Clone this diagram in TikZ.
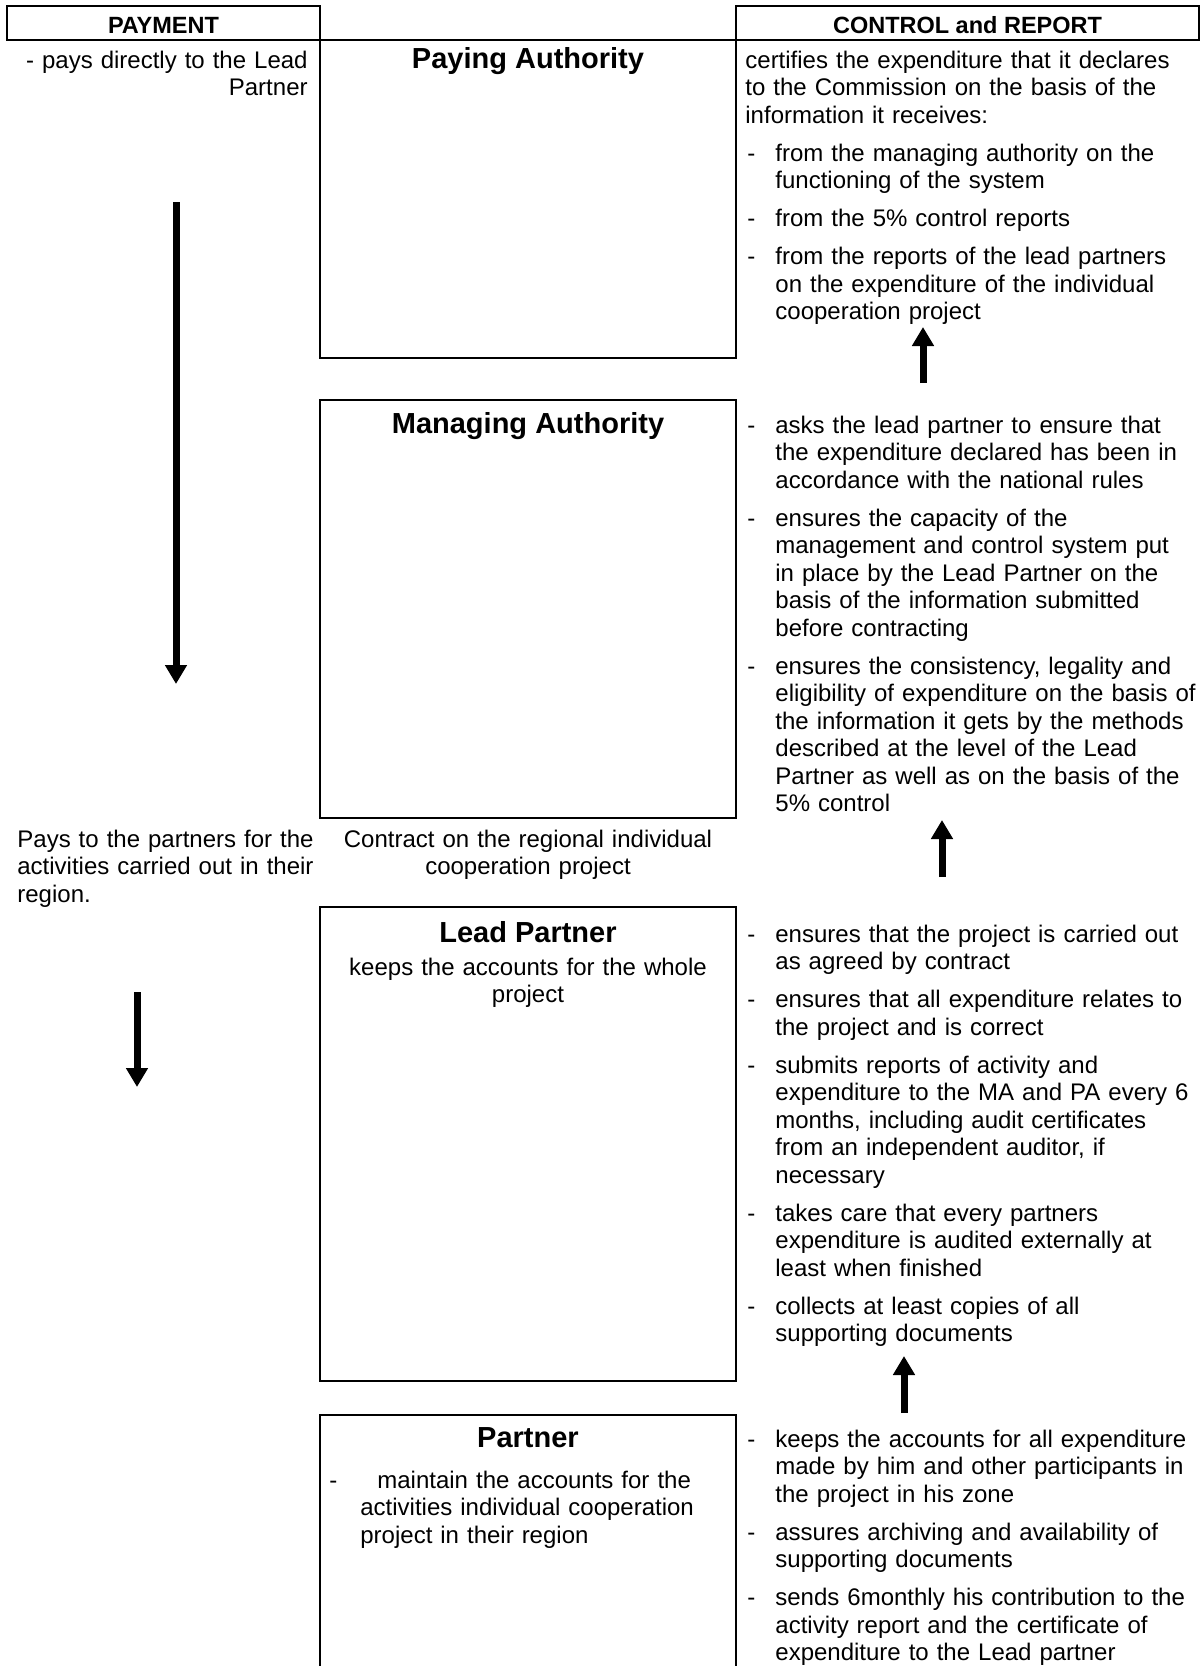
\documentclass[tikz,border=0pt]{standalone}
\usepackage{fontspec}
\setmainfont{Liberation Sans}
\usetikzlibrary{arrows.meta}

% list entry with a hanging dash; line breaks stay inside one paragraph
\newcommand{\dashline}[1]{\hangindent=15pt\hangafter=1\noindent\makebox[15pt][l]{\hspace{1pt}-}\begingroup\let\\\newline #1\endgroup\par}
\newcommand{\blockgap}{\vspace{5.25pt}}

\begin{document}
\begin{tikzpicture}[x=0.5pt,y=-0.5pt,
  frame/.style={draw, line width=1.25pt, inner sep=0pt, outer sep=0pt, anchor=north west},
  body/.style={font=\fontsize{12pt}{13.75pt}\selectfont, inner sep=0pt},
  title/.style={font=\fontsize{14.5pt}{17pt}\selectfont\bfseries, inner sep=0pt, anchor=base},
  head/.style={font=\fontsize{11.75pt}{14pt}\selectfont\bfseries, inner sep=0pt, anchor=base},
  notes/.style={body, text width=235pt, align=left, anchor=base west},
  flow/.style={line width=3.5pt, -{Triangle[width=10.5pt,length=9.5pt]}}
]
\useasboundingbox (0,0) rectangle (1202,1666);
\fill[white] (0,0) rectangle (1202,1666);

% column headers
\node[frame, minimum width=156.5pt, minimum height=17pt] (payhdr) at (7,6) {};
\node[frame, minimum width=231.5pt, minimum height=17pt] (ctrlhdr) at (736,6) {};
\node[head] (payT) at (163.5,33) {PAYMENT};
\node[head] (ctrlT) at (967.5,33) {CONTROL and REPORT};

% authority boxes
\node[frame, minimum width=208pt, minimum height=159pt] (pa) at (320,40) {};
\node[frame, minimum width=208pt, minimum height=209pt] (ma) at (320,400) {};
\node[frame, minimum width=208pt, minimum height=237pt] (lp) at (320,907) {};
\begin{scope}
  \clip (0,0) rectangle (1202,1666);
  \node[frame, minimum width=208pt, minimum height=150pt] (pt) at (320,1415) {};
\end{scope}

\node[title] (paT) at (528,68) {Paying Authority};
\node[title] (maT) at (528,433) {Managing Authority};
\node[title] (lpT) at (528,942) {Lead Partner};
\node[title] (ptT) at (528,1447) {Partner};

\node[body, text width=200pt, align=center, anchor=base] (lpS) at (528,975)
  {keeps the accounts for the whole\\ project};
\node[body, text width=200pt, align=left, anchor=base west] (ptS) at (329,1488)
  {\hangindent=15.5pt\hangafter=1\noindent\makebox[15.5pt][l]{-}\hspace*{8.5pt}maintain the accounts for the\newline
   activities individual cooperation\newline project in their region\par};

% payment column
\node[body, text width=150pt, align=right, anchor=base east] (pay1) at (308,68)
  {- pays directly to the Lead\\ Partner};
\node[body, text width=150pt, align=left, anchor=base west] (pay2) at (17,847)
  {Pays to the partners for the\\ activities carried out in their\\ region.};
\node[body, text width=208pt, align=center, anchor=base] (contract) at (528,847)
  {Contract on the regional individual\\ cooperation project};

% control and report column
\node[notes] (paN) at (745,68) {%
  \noindent certifies the expenditure that it declares\newline to the Commission on the basis of the\newline information it receives:\par
  \blockgap\dashline{from the managing authority on the\\ functioning of the system}
  \blockgap\dashline{from the 5\% control reports}
  \blockgap\dashline{from the reports of the lead partners\\ on the expenditure of the individual\\ cooperation project}};

\node[notes] (maN) at (745,433) {%
  \dashline{asks the lead partner to ensure that\\ the expenditure declared has been in\\ accordance with the national rules}
  \blockgap\dashline{ensures the capacity of the\\ management and control system put\\ in place by the Lead Partner on the\\ basis of the information submitted\\ before contracting}
  \blockgap\dashline{ensures the consistency, legality and\\ eligibility of expenditure on the basis of\\ the information it gets by the methods\\ described at the level of the Lead\\ Partner as well as on the basis of the\\ 5\% control}};

\node[notes] (lpN) at (745,942) {%
  \dashline{ensures that the project is carried out\\ as agreed by contract}
  \blockgap\dashline{ensures that all expenditure relates to\\ the project and is correct}
  \blockgap\dashline{submits reports of activity and\\ expenditure to the MA and PA every 6\\ months, including audit certificates\\ from an independent auditor, if\\ necessary}
  \blockgap\dashline{takes care that every partners\\ expenditure is audited externally at\\ least when finished}
  \blockgap\dashline{collects at least copies of all\\ supporting documents}};

\node[notes] (ptN) at (745,1447) {%
  \dashline{keeps the accounts for all expenditure\\ made by him and other participants in\\ the project in his zone}
  \blockgap\dashline{assures archiving and availability of\\ supporting documents}
  \blockgap\dashline{sends 6monthly his contribution to the\\ activity report and the certificate of\\ expenditure to the Lead partner}};

% flow arrows
\coordinate (payA) at (176,202);  \coordinate (payB) at (176,684);
\coordinate (regA) at (137,992);  \coordinate (regB) at (137,1087);
\coordinate (up1A) at (923,383);  \coordinate (up1B) at (923,327);
\coordinate (up2A) at (942,877);  \coordinate (up2B) at (942,820);
\coordinate (up3A) at (904,1413); \coordinate (up3B) at (904,1356);
\draw[flow] (payA) -- (payB);
\draw[flow] (regA) -- (regB);
\draw[flow] (up1A) -- (up1B);
\draw[flow] (up2A) -- (up2B);
\draw[flow] (up3A) -- (up3B);
\end{tikzpicture}
\end{document}
